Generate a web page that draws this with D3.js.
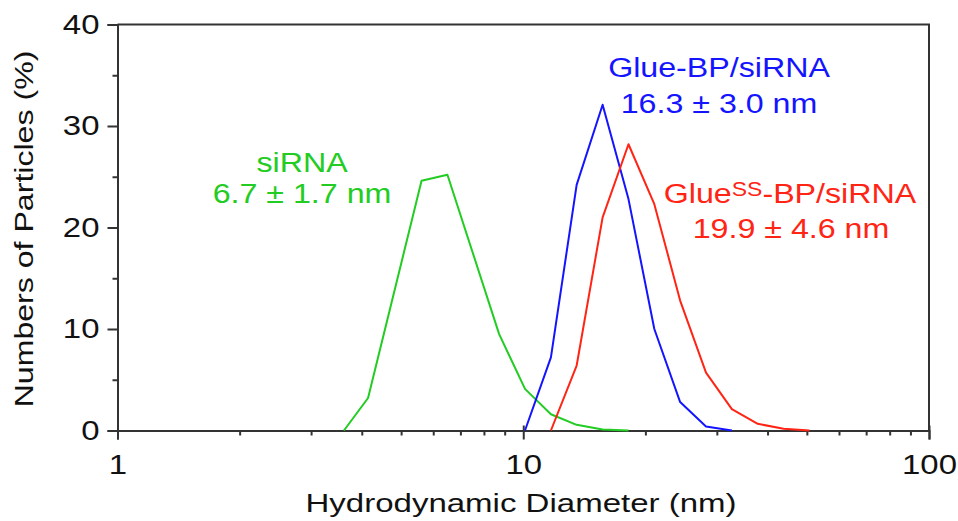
<!DOCTYPE html>
<html>
<head>
<meta charset="utf-8">
<script src="https://cdn.jsdelivr.net/npm/d3@7"></script>
<style>
  body { margin: 0; background: #fff; }
  text { font-family: "Liberation Sans", Arial, Helvetica, sans-serif; }
</style>
</head>
<body>
<div id="chart"></div>
<script>
// DLS size distributions (by number)
var siRNA_size = [3.615, 4.145, 5.615, 6.503, 8.721, 10.1, 11.7, 13.54, 15.69, 18.17];
var siRNA_pct  = [0, 3.2, 24.6, 25.2, 9.5, 4.1, 1.6, 0.56, 0.1, 0];

var glueBP_size = [10.1, 11.7, 13.54, 15.69, 18.17, 21.04, 24.36, 28.21, 32.67];
var glueBP_pct  = [0, 7.2, 24.2, 32.1, 22.8, 10.0, 2.8, 0.4, 0];

var glueSS_size = [11.7, 13.54, 15.69, 18.17, 21.04, 24.36, 28.21, 32.67, 37.84, 43.82, 50.75];
var glueSS_pct  = [0, 6.4, 21.0, 28.2, 22.3, 12.8, 5.7, 2.1, 0.66, 0.17, 0];

var xMajor = [1, 10, 100];
var xMinor = [2, 3, 4, 5, 6, 7, 8, 9, 20, 30, 40, 50, 60, 70, 80, 90];
var yMajor = [0, 10, 20, 30, 40];
var yMinor = [5, 15, 25, 35];

var width = 958,
  height = 521,
  margin = {left: 117.5, right: 29, top: 24.5, bottom: 90.5},
  axisColor = "#333",
  S = 1.22;   // the figure's type is set wide

var green = "#22cc22", blue = "#1414ff", red = "#ff2414";

var x = d3.scaleLog()
  .domain([1, 100])
  .range([margin.left, width - margin.right]);

var y = d3.scaleLinear()
  .domain([0, 40])
  .range([height - margin.bottom, margin.top]);

var svg = d3.select("#chart")
  .append("svg")
  .attr("width", width)
  .attr("height", height);

// box top / right
svg.append("path")
  .attr("d", "M" + x(1) + "," + y(40) + "H" + x(100) + "V" + y(0))
  .attr("fill", "none")
  .attr("stroke", axisColor)
  .attr("stroke-width", 2);

// x axis
var xAxis = svg.append("g")
  .attr("transform", "translate(0," + y(0) + ")")
  .call(d3.axisBottom(x).tickValues(xMajor).tickSize(9).tickPadding(15)
    .tickFormat(d3.format("d")));
xAxis.selectAll(".tick line").attr("y1", -5);

svg.append("g")
  .attr("transform", "translate(0," + y(0) + ")")
  .call(d3.axisBottom(x).tickValues(xMinor).tickSize(5).tickFormat(""))
  .select(".domain").remove();

// y axis
var yAxis = svg.append("g")
  .attr("transform", "translate(" + x(1) + ",0)")
  .call(d3.axisLeft(y).tickValues(yMajor).tickSize(10).tickPadding(8));

svg.append("g")
  .attr("transform", "translate(" + x(1) + ",0)")
  .call(d3.axisLeft(y).tickValues(yMinor).tickSize(5).tickFormat(""))
  .select(".domain").remove();

svg.selectAll(".domain, .tick line")
  .attr("stroke", axisColor)
  .attr("stroke-width", 2);

svg.selectAll(".tick text")
  .attr("fill", "#111")
  .style("font-size", "27px");
xAxis.selectAll(".tick text").attr("transform", "scale(" + S + ",1)");
yAxis.selectAll(".tick text")
  .attr("transform", "scale(" + S + ",1)")
  .attr("x", -18 / S);

// a text with the wide setting of the original
function label(px, py, str, size, color, stretch, rot) {
  var g = svg.append("g")
    .attr("transform", "translate(" + px + "," + py + ")" + (rot ? " rotate(" + rot + ")" : ""));
  return g.append("text")
    .attr("transform", "scale(" + stretch + ",1)")
    .attr("text-anchor", "middle")
    .style("font-size", size + "px")
    .attr("fill", color)
    .text(str);
}

label(521, 512, "Hydrodynamic Diameter (nm)", 26, "#111", 1.27);
label(33, 229, "Numbers of Particles (%)", 26, "#111", 1.235, -90);

// the curves
var line = d3.line()
  .x(function(d) { return x(d[0]); })
  .y(function(d) { return y(d[1]); });

var curves = [
  {size: siRNA_size, pct: siRNA_pct, color: green},
  {size: glueBP_size, pct: glueBP_pct, color: blue},
  {size: glueSS_size, pct: glueSS_pct, color: red}
];

svg.selectAll(".curve")
  .data(curves)
  .enter()
  .append("path")
  .attr("class", "curve")
  .attr("fill", "none")
  .attr("stroke", function(d) { return d.color; })
  .attr("stroke-width", 2)
  .attr("stroke-linejoin", "round")
  .attr("d", function(d) { return line(d.size.map(function(s, i) { return [s, d.pct[i]]; })); });

// annotations
var A = 1.15;
label(302, 172, "siRNA", 28, green, A);
label(302, 203, "6.7 \u00b1 1.7 nm", 28, green, A);
label(719, 77, "Glue-BP/siRNA", 28, blue, A);
label(719, 113, "16.3 \u00b1 3.0 nm", 28, blue, A);

var ss = label(790, 203, "", 28, red, A);
ss.append("tspan").text("Glue");
ss.append("tspan").style("font-size", "20px").attr("dy", -7).text("SS");
ss.append("tspan").attr("dy", 7).text("-BP/siRNA");
label(791, 238, "19.9 \u00b1 4.6 nm", 28, red, A);
</script>
</body>
</html>
